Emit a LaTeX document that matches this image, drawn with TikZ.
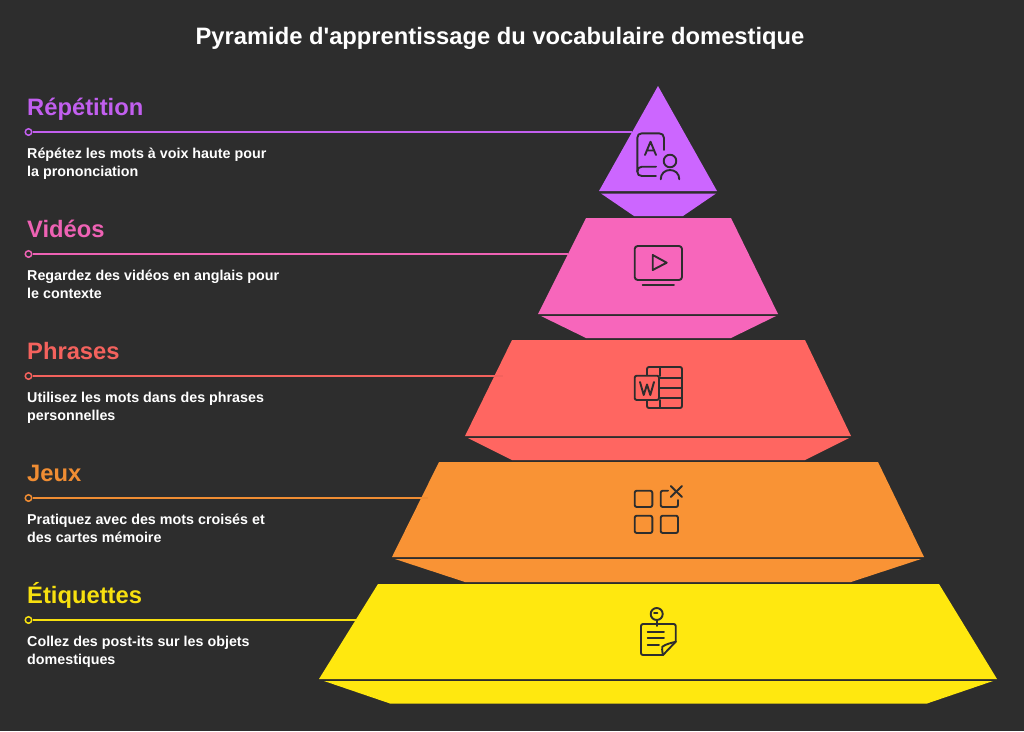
\documentclass[tikz,border=0pt]{standalone}
\usepackage{fontspec}
\setmainfont{Liberation Sans}
\newfontfamily\plainsans{Liberation Sans}
\definecolor{bg}{HTML}{2D2D2D}
\definecolor{cA}{HTML}{CC66FF}
\definecolor{cB}{HTML}{F766BB}
\definecolor{cC}{HTML}{FF6661}
\definecolor{cD}{HTML}{F99335}
\definecolor{cE}{HTML}{FFE80F}
\definecolor{tA}{HTML}{C25FEF}
\definecolor{tB}{HTML}{EE62B4}
\definecolor{tC}{HTML}{F4625D}
\definecolor{tD}{HTML}{F08D33}
\definecolor{tE}{HTML}{F7E00F}
\tikzset{
  x=1pt,y=-1pt,
  titletext/.style={anchor=base,text=white,font=\plainsans\bfseries\fontsize{23.75}{28}\selectfont,inner sep=0pt},
  headtext/.style={anchor=base west,font=\bfseries\fontsize{23.75}{28}\selectfont,inner sep=0pt},
  desctext/.style={anchor=north west,align=left,text=white,font=\bfseries\fontsize{14.3}{18}\selectfont,inner sep=0pt},
  dotnode/.style={circle,draw,fill=none,line width=1.5pt,minimum size=6.5pt,inner sep=0pt},
  leader/.style={line width=1.8pt},
  icon/.style={draw=bg,line width=1.9pt,line cap=round,line join=round,fill=none}
}
\begin{document}
\begin{tikzpicture}
\useasboundingbox (0,0) rectangle (1024,731);
\fill[bg] (0,0) rectangle (1024,731);
\node[titletext] (title) at (500,44) {Pyramide d'apprentissage du vocabulaire domestique};
% pyramid
\fill[cA] (658,86) -- (717,191) -- (599,191) -- cycle;
\fill[cA] (601,193.5) -- (716,193.5) -- (683,216) -- (634,216) -- cycle;
\fill[cB] (586,218) -- (731,218) -- (778,314) -- (538,314) -- cycle;
\fill[cB] (541,316) -- (776,316) -- (731,338) -- (586,338) -- cycle;
\fill[cC] (512,340) -- (805,340) -- (851,436) -- (465,436) -- cycle;
\fill[cC] (468,438) -- (849,438) -- (805,460) -- (512,460) -- cycle;
\fill[cD] (439,462) -- (878,462) -- (924,557) -- (392,557) -- cycle;
\fill[cD] (395,559) -- (921,559) -- (851,582) -- (465,582) -- cycle;
\fill[cE] (378,584) -- (939,584) -- (997,679) -- (319,679) -- cycle;
\fill[cE] (324,681) -- (993,681) -- (927,703.5) -- (390,703.5) -- cycle;
% labels
\node[headtext,text=tA] (h1) at (27,115) {Répétition};
\node[headtext,text=tB] (h2) at (27,237) {Vidéos};
\node[headtext,text=tC] (h3) at (27,359) {Phrases};
\node[headtext,text=tD] (h4) at (27,481) {Jeux};
\node[headtext,text=tE] (h5) at (27,603) {Étiquettes};
\node[desctext] (d1) at (27,148.3) {Répétez les mots à voix haute pour\\la prononciation};
\node[desctext] (d2) at (27,270.3) {Regardez des vidéos en anglais pour\\le contexte};
\node[desctext] (d3) at (27,392.3) {Utilisez les mots dans des phrases\\personnelles};
\node[desctext] (d4) at (27,514.3) {Pratiquez avec des mots croisés et\\des cartes mémoire};
\node[desctext] (d5) at (27,636.3) {Collez des post-its sur les objets\\domestiques};
% leaders
\foreach \n/\y/\xe/\c in {1/132/632/tA,2/254/568/tB,3/376/503/tC,4/498/428/tD,5/620/356/tE}{
  \node[dotnode,draw=\c] (dot\n) at (28.5,\y) {};
  \coordinate (end\n) at (\xe,\y);
  \draw[leader,draw=\c] (dot\n) -- (end\n);
}
% icon 1
\draw[icon] (664,150) -- (664,138) .. controls (664,135) and (662,133.3) .. (659,133.3) -- (642,133.3)
  .. controls (639,133.3) and (637.3,135) .. (637.3,138) -- (637.3,171.5) .. controls (637.3,174.5) and (639,176) .. (642,176) -- (656,176);
\draw[icon] (637.3,171.5) .. controls (637.3,168.5) and (639,166.7) .. (642,166.7) -- (656,166.7);
\draw[icon] (645,155) -- (650.5,141.7) -- (656,155) (646.8,150.5) -- (654.2,150.5);
\draw[icon] (670,161) circle (6.3);
\draw[icon] (660.7,179.3) .. controls (660.7,173.5) and (665,170) .. (670,170) .. controls (675,170) and (679.3,173.5) .. (679.3,179.3);
% icon 2
\draw[icon,rounded corners=3pt] (634.7,246) rectangle (682,280);
\draw[icon] (652.7,255) -- (666.7,262.7) -- (652.7,270) -- cycle;
\draw[icon] (642.7,285) -- (674,285);
% icon 3
\draw[icon,rounded corners=2pt] (647,367) rectangle (682,408);
\draw[icon] (660,367) -- (660,376) (660,400) -- (660,408) (660,378) -- (682,378) (660,388) -- (682,388) (660,398) -- (682,398);
\draw[icon,fill=cC,rounded corners=2pt] (634.7,375.7) rectangle (659,400);
\draw[icon] (640,382) -- (643.7,395) -- (647,384.5) -- (650.3,395) -- (654,382);
% icon 4
\draw[icon,rounded corners=2pt] (634.7,490.7) rectangle (652.3,507);
\draw[icon,rounded corners=2pt] (634.7,515.7) rectangle (652.3,533);
\draw[icon,rounded corners=2pt] (660.7,515.7) rectangle (678,533);
\draw[icon,rounded corners=2pt] (668,490.7) -- (660.7,490.7) -- (660.7,507) -- (678,507) -- (678,500);
\draw[icon] (670.7,486) -- (682,497) (682,486) -- (670.7,497);
% icon 5
\draw[icon] (656.7,614) circle (6);
\draw[icon] (654,613) -- (657.5,613);
\draw[icon] (656.7,620) -- (656.7,626);
\draw[icon,rounded corners=2pt] (675.7,641.7) -- (675.7,624) -- (641,624) -- (641,655) -- (663,655);
\draw[icon] (663,655) -- (675.7,641.7);
\draw[icon] (663,655) .. controls (662,651) and (662,648) .. (662.3,646.7) .. controls (666,644) and (671,643) .. (675.7,641.7);
\draw[icon] (647.7,632) -- (664,632) (647.7,638.3) -- (664,638.3) (647.7,645) -- (659,645);
\end{tikzpicture}
\end{document}
